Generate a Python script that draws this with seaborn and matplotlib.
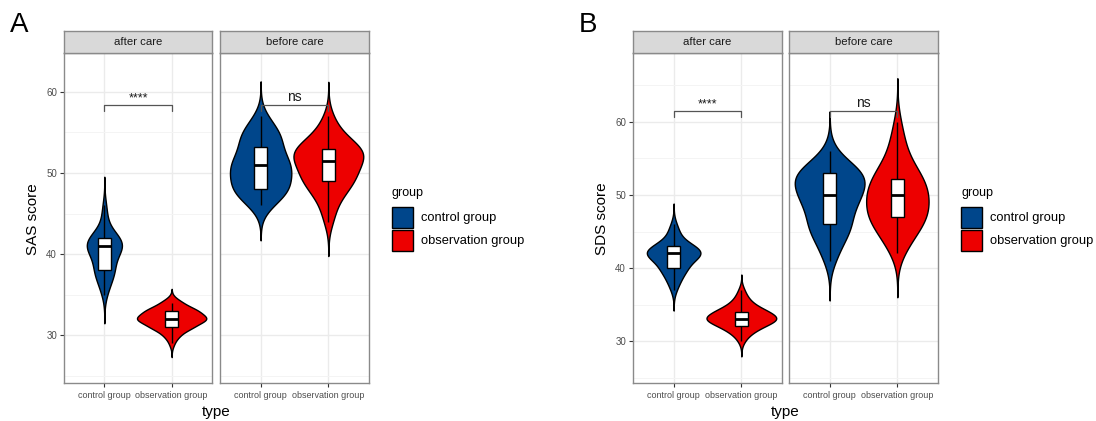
import numpy as np
import pandas as pd
import matplotlib
matplotlib.use("Agg")
import matplotlib.pyplot as plt
import seaborn as sns
from matplotlib.patches import Rectangle
from matplotlib.ticker import MultipleLocator

# categories
groups = ["control group", "observation group"]
times = ["after care", "before care"]
colors = ["#00468B", "#ED0000"]

# SAS scores (score value -> number of patients)
sas_after_ctrl_val = [35, 36, 37, 38, 39, 40, 41, 42, 43, 44, 45, 46]
sas_after_ctrl_n = [1, 2, 3, 5, 3, 5, 9, 7, 2, 1, 1, 1]
sas_after_obs_val = [29, 30, 31, 32, 33, 34]
sas_after_obs_n = [1, 3, 8, 14, 10, 4]
sas_before_ctrl_val = [46, 47, 48, 49, 50, 51, 52, 53, 54, 55, 56, 57]
sas_before_ctrl_n = [2, 3, 6, 3, 5, 5, 4, 2, 4, 3, 2, 1]
sas_before_obs_val = [44, 45, 46, 47, 48, 49, 50, 51, 52, 53, 54, 55, 56, 57]
sas_before_obs_n = [1, 1, 1, 2, 3, 4, 5, 3, 7, 6, 3, 2, 1, 1]

# SDS scores
sds_after_ctrl_val = [37, 38, 39, 40, 41, 42, 43, 44, 45, 46]
sds_after_ctrl_n = [1, 2, 3, 5, 5, 12, 7, 2, 2, 1]
sds_after_obs_val = [30, 31, 32, 33, 34, 35, 36, 37]
sds_after_obs_n = [1, 3, 7, 13, 9, 4, 2, 1]
sds_before_ctrl_val = [41, 42, 43, 44, 45, 46, 47, 48, 49, 50, 51, 52, 53, 54, 55, 56]
sds_before_ctrl_n = [1, 1, 1, 2, 2, 4, 1, 3, 3, 4, 4, 3, 7, 2, 1, 1]
sds_before_obs_val = [42, 43, 44, 45, 46, 47, 48, 49, 50, 51, 52, 53, 54, 55, 56, 57, 58, 60]
sds_before_obs_n = [1, 1, 2, 2, 3, 4, 4, 2, 5, 3, 3, 3, 2, 1, 1, 1, 1, 1]

sig_labels = ["****", "ns"]


def build(parts):
    rows = []
    for time, grp, vals, cnts in parts:
        for v in np.repeat(vals, cnts):
            rows.append({"time": time, "type": grp, "score": v})
    return pd.DataFrame(rows)


sas = build([
    ("after care", "control group", sas_after_ctrl_val, sas_after_ctrl_n),
    ("after care", "observation group", sas_after_obs_val, sas_after_obs_n),
    ("before care", "control group", sas_before_ctrl_val, sas_before_ctrl_n),
    ("before care", "observation group", sas_before_obs_val, sas_before_obs_n),
])
sds = build([
    ("after care", "control group", sds_after_ctrl_val, sds_after_ctrl_n),
    ("after care", "observation group", sds_after_obs_val, sds_after_obs_n),
    ("before care", "control group", sds_before_ctrl_val, sds_before_ctrl_n),
    ("before care", "observation group", sds_before_obs_val, sds_before_obs_n),
])

sns.set_theme(style="white")
plt.rcParams["font.family"] = ["Liberation Sans", "DejaVu Sans"]

W, H = 1096, 421
fig = plt.figure(figsize=(W / 100, H / 100), dpi=100)


def fx(px):
    return px / W


def fy(py):
    return 1 - py / H


def draw_panel(df, facets_x, ylim, ylabel, letter, bracket_y, legend_x):
    top, bottom, strip_top = 53, 383, 31
    px_per_unit = (bottom - top) / (ylim[1] - ylim[0])
    for i, (time, (x0, x1)) in enumerate(zip(times, facets_x)):
        ax = fig.add_axes([fx(x0), fy(bottom), fx(x1 - x0), (bottom - top) / H])
        sub = df[df["time"] == time]
        sns.violinplot(data=sub, x="type", y="score", hue="type", order=groups,
                       hue_order=groups, palette=colors, inner=None, cut=3,
                       density_norm="area", common_norm=True, width=1.03,
                       linewidth=1, linecolor="black", saturation=1,
                       legend=False, ax=ax)
        sns.boxplot(data=sub, x="type", y="score", order=groups, width=0.2,
                    color="white", linecolor="black", linewidth=1,
                    showfliers=False, showcaps=False, saturation=1,
                    medianprops={"linewidth": 2}, ax=ax)
        ax.set_xlim(-0.6, 1.6)
        ax.set_ylim(*ylim)
        ax.yaxis.set_major_locator(MultipleLocator(10))
        ax.yaxis.set_minor_locator(MultipleLocator(5))
        ax.grid(which="major", color="#EBEBEB", linewidth=1.0)
        ax.grid(which="minor", axis="y", color="#F4F4F4", linewidth=0.7)
        ax.set_axisbelow(True)
        for s in ax.spines.values():
            s.set_color("#8A8A8A")
            s.set_linewidth(1)
        ax.set_xlabel("")
        ax.set_ylabel("")
        ax.tick_params(axis="x", which="major", bottom=True, length=3, width=0.8,
                       color="#333333", labelsize=6.5, labelcolor="#4D4D4D", pad=3)
        ax.tick_params(axis="y", which="both", left=(i == 0), length=3, width=0.8,
                       color="#333333", labelsize=7, labelcolor="#4D4D4D", pad=2)
        ax.tick_params(axis="y", which="minor", left=False)
        if i > 0:
            ax.set_yticklabels([])

        # significance bracket
        tick = 6.5 / px_per_unit
        ax.plot([0, 0, 1, 1], [bracket_y - tick, bracket_y, bracket_y, bracket_y - tick],
                color="#555555", linewidth=0.9)
        ax.annotate(sig_labels[i], xy=(0.5, bracket_y), xytext=(0, 2.5),
                    textcoords="offset points", ha="center", va="baseline",
                    fontsize=10 if i else 9, color="#1A1A1A")

        # facet strip
        sx = fig.add_axes([fx(x0), fy(top), fx(x1 - x0), (top - strip_top) / H])
        sx.set_facecolor("#D9D9D9")
        sx.set_xticks([])
        sx.set_yticks([])
        for s in sx.spines.values():
            s.set_color("#8A8A8A")
            s.set_linewidth(1)
        sx.text(0.5, 0.5, time, ha="center", va="center", fontsize=8.2,
                color="#1A1A1A", transform=sx.transAxes)

    left = facets_x[0][0]
    right = facets_x[1][1]
    fig.text(fx(left - 31), fy(219), ylabel, rotation=90, ha="center", va="center",
             fontsize=11, color="black")
    fig.text(fx((left + right) / 2), fy(412), "type", ha="center", va="center",
             fontsize=11, color="black")
    fig.text(fx(left - 45), fy(25), letter, ha="center", va="center",
             fontsize=20, color="black")

    # legend
    fig.text(fx(legend_x), fy(193), "group", ha="left", va="center", fontsize=9,
             color="black")
    for k, (g, c) in enumerate(zip(groups, colors)):
        y_top = 207 + k * 23
        fig.add_artist(Rectangle((fx(legend_x), fy(y_top + 21)), fx(21), 21 / H,
                                 facecolor=c, edgecolor="black", linewidth=1,
                                 transform=fig.transFigure))
        fig.text(fx(legend_x + 29), fy(y_top + 11), g, ha="left", va="center",
                 fontsize=9.3, color="black")


draw_panel(sas, [(64, 212), (220, 369)], (24.1, 64.8), "SAS score", "A", 58.4, 392)
draw_panel(sds, [(633, 782), (789, 938)], (24.25, 69.45), "SDS score", "B", 61.55, 961)

fig.savefig("out.png", dpi=100)
